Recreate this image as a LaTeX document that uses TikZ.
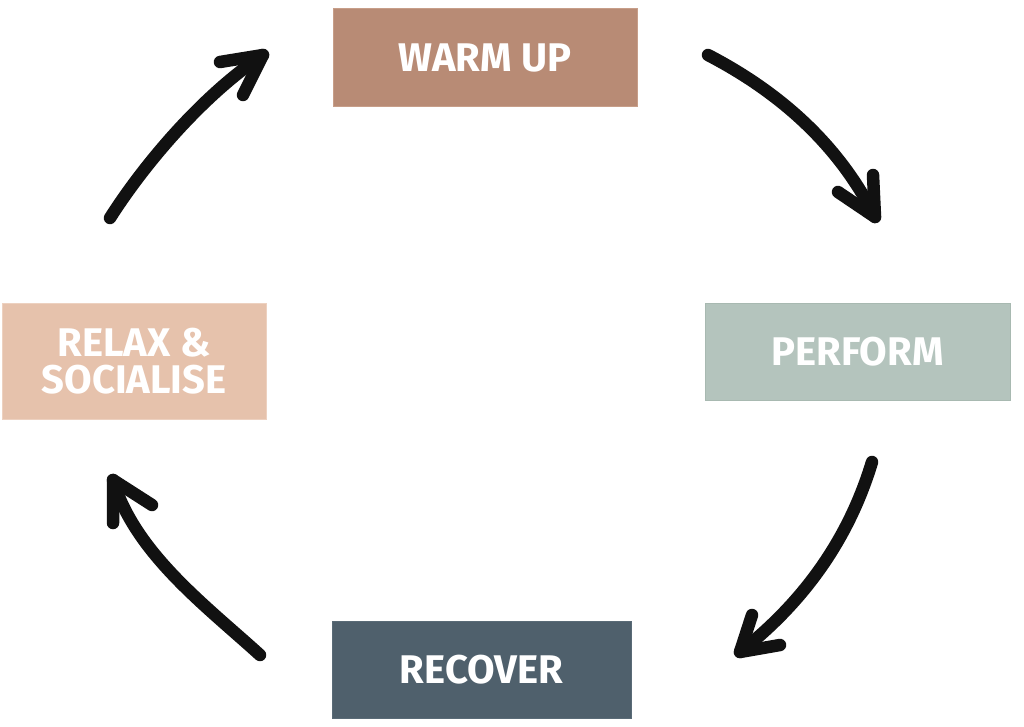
\documentclass[tikz,border=0pt]{standalone}
\usepackage{fontspec}
\setmainfont{Fira Sans}
\definecolor{warmc}{HTML}{B88B75}
\definecolor{warmb}{HTML}{C79E89}
\definecolor{relaxc}{HTML}{E6C2AC}
\definecolor{relaxb}{HTML}{EDD1C0}
\definecolor{perfc}{HTML}{B4C4BD}
\definecolor{perfb}{HTML}{A8B9B1}
\definecolor{recc}{HTML}{4F606C}
\definecolor{recb}{HTML}{5A6B77}
\definecolor{arrowc}{HTML}{111111}
\tikzset{
  stage/.style={draw, line width=1pt, inner sep=0pt, align=center,
    text=white, font=\fontsize{40}{37}\selectfont\bfseries},
  cyclearrow/.style={draw=arrowc, line width=12.5pt, line cap=round, line join=round},
}
\begin{document}
\begin{tikzpicture}[x=1pt,y=-1pt]
\useasboundingbox (0,0) rectangle (1024,727);
% boxes
\node[stage, fill=warmc, draw=warmb, minimum width=304pt, minimum height=98pt] (warm) at (485,58) {WARM UP};
\node[stage, fill=perfc, draw=perfb, minimum width=305pt, minimum height=97pt] (perf) at (857.5,351.5) {PERFORM};
\node[stage, fill=recc, draw=recb, minimum width=299pt, minimum height=97pt] (rec) at (481.5,669.5) {RECOVER};
\node[stage, fill=relaxc, draw=relaxb, minimum width=264pt, minimum height=116pt] (relax) at (134,361) {RELAX \&\\SOCIALISE};
% arrow endpoints
\coordinate (a1s) at (708,55);
\coordinate (a1t) at (875,217);
\coordinate (a2s) at (872,462);
\coordinate (a2t) at (740,652);
\coordinate (a3s) at (260,655);
\coordinate (a3t) at (113,480);
\coordinate (a4s) at (110,218);
\coordinate (a4t) at (263,55);
% arrows
\draw[cyclearrow] (a1s) .. controls (785,95) and (841,149) .. (a1t);
\draw[cyclearrow] (a1t) ++(-37,-25) -- (a1t) -- ++(-2,-42);
\draw[cyclearrow] (a2s) .. controls (849,538) and (805,601) .. (a2t);
\draw[cyclearrow] (a2t) ++(12,-37) -- (a2t) -- ++(40,-7);
\draw[cyclearrow] (a3s) .. controls (205,605) and (135,553) .. (a3t);
\draw[cyclearrow] (a3t) ++(0,43) -- (a3t) -- ++(39,25);
\draw[cyclearrow] (a4s) .. controls (145,163) and (203,95) .. (a4t);
\draw[cyclearrow] (a4t) ++(-43,7) -- (a4t) -- ++(-20,40);
\end{tikzpicture}
\end{document}
